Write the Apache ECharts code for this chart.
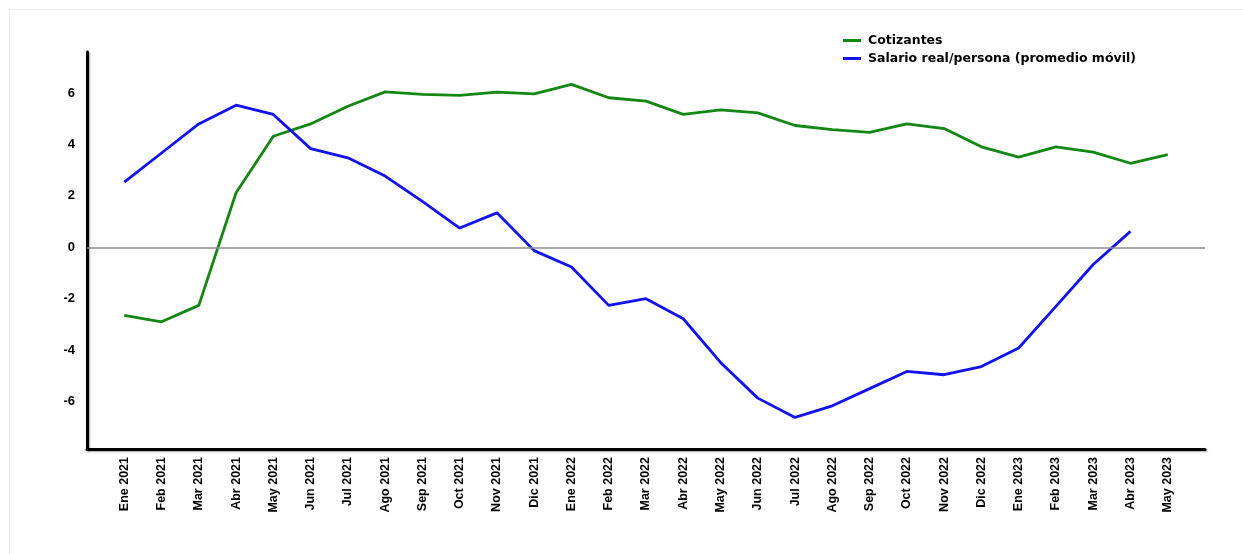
<!DOCTYPE html>
<html>
<head>
<meta charset="utf-8">
<script src="https://cdn.jsdelivr.net/npm/echarts@6/dist/echarts.min.js"></script>
<style>
  html, body { margin: 0; padding: 0; background: #fff; }
  #chart { width: 1243px; height: 554px; }
</style>
</head>
<body>
<div id="chart"></div>
<script>
var months = ['Ene 2021', 'Feb 2021', 'Mar 2021', 'Abr 2021', 'May 2021', 'Jun 2021', 'Jul 2021', 'Ago 2021',
    'Sep 2021', 'Oct 2021', 'Nov 2021', 'Dic 2021', 'Ene 2022', 'Feb 2022', 'Mar 2022', 'Abr 2022',
    'May 2022', 'Jun 2022', 'Jul 2022', 'Ago 2022', 'Sep 2022', 'Oct 2022', 'Nov 2022', 'Dic 2022',
    'Ene 2023', 'Feb 2023', 'Mar 2023', 'Abr 2023', 'May 2023'];
var cotizantes = [-2.65, -2.9, -2.26, 2.12, 4.32, 4.8, 5.49, 6.05, 5.95, 5.91, 6.04, 5.97, 6.34, 5.82,
    5.69, 5.17, 5.35, 5.23, 4.74, 4.58, 4.47, 4.8, 4.62, 3.91, 3.51, 3.91, 3.7, 3.27, 3.61];
var salario = [2.54, 3.67, 4.8, 5.53, 5.17, 3.84, 3.48, 2.77, 1.79, 0.75, 1.34, -0.13, -0.77, -2.26,
    -2.0, -2.78, -4.48, -5.87, -6.62, -6.17, -5.5, -4.83, -4.96, -4.64, -3.92, -2.3, -0.67, 0.62, null];
var yTicks = [-6, -4, -2, 0, 2, 4, 6];

// one empty slot at each end so the axis runs a step past the first and last month
var cats = [''].concat(months, ['']);
function pad(arr) { return [null].concat(arr, [null]); }

var chart = echarts.init(document.getElementById('chart'));
var font = '"Liberation Sans", Arial, sans-serif';
var axisLine = {
    show: true,
    onZero: false,
    lineStyle: { color: '#000', width: 3, shadowColor: 'rgba(0,0,0,0.35)', shadowBlur: 2, shadowOffsetX: 1, shadowOffsetY: 1 }
};

chart.setOption({
    animation: false,
    backgroundColor: '#fff',
    graphic: [{
        type: 'rect',
        shape: { x: 9.5, y: 9.5, width: 1300, height: 600 },
        style: { fill: 'none', stroke: '#ececec', lineWidth: 1 },
        silent: true
    }],
    grid: { left: 87, right: 38, top: 52, bottom: 105 },
    legend: {
        orient: 'vertical',
        left: 838,
        top: 29,
        itemWidth: 18,
        itemHeight: 3,
        itemGap: 5,
        icon: 'rect',
        textStyle: { fontFamily: '"DejaVu Sans", sans-serif', fontWeight: 'bold', fontSize: 12.5, color: '#000', padding: [0, 0, 0, 2] },
        data: ['Cotizantes', 'Salario real/persona (promedio móvil)']
    },
    xAxis: {
        type: 'category',
        boundaryGap: false,
        data: cats,
        axisLine: axisLine,
        axisTick: { show: false },
        splitLine: { show: false },
        axisLabel: {
            rotate: 90,
            interval: 0,
            margin: 8,
            fontFamily: font,
            fontWeight: 'bold',
            fontSize: 12.5,
            color: '#000'
        }
    },
    yAxis: {
        type: 'value',
        min: -7.85,
        max: 7.6,
        axisLine: axisLine,
        axisTick: { show: false },
        splitLine: { show: false },
        axisLabel: {
            customValues: yTicks,
            margin: 12,
            fontFamily: font,
            fontWeight: 'bold',
            fontSize: 13,
            color: '#000'
        }
    },
    series: [{
        name: 'Cotizantes',
        type: 'line',
        data: pad(cotizantes),
        symbol: 'none',
        color: '#138613',
        lineStyle: { width: 2.8, color: '#138613' },
        markLine: {
            silent: true,
            symbol: 'none',
            label: { show: false },
            lineStyle: { color: '#8c8c8c', width: 1.5, type: 'solid' },
            data: [{ yAxis: 0 }]
        },
        z: 3
    }, {
        name: 'Salario real/persona (promedio móvil)',
        type: 'line',
        data: pad(salario),
        symbol: 'none',
        color: '#1212ee',
        lineStyle: { width: 2.8, color: '#1212ee' },
        z: 3
    }]
});
</script>
</body>
</html>
